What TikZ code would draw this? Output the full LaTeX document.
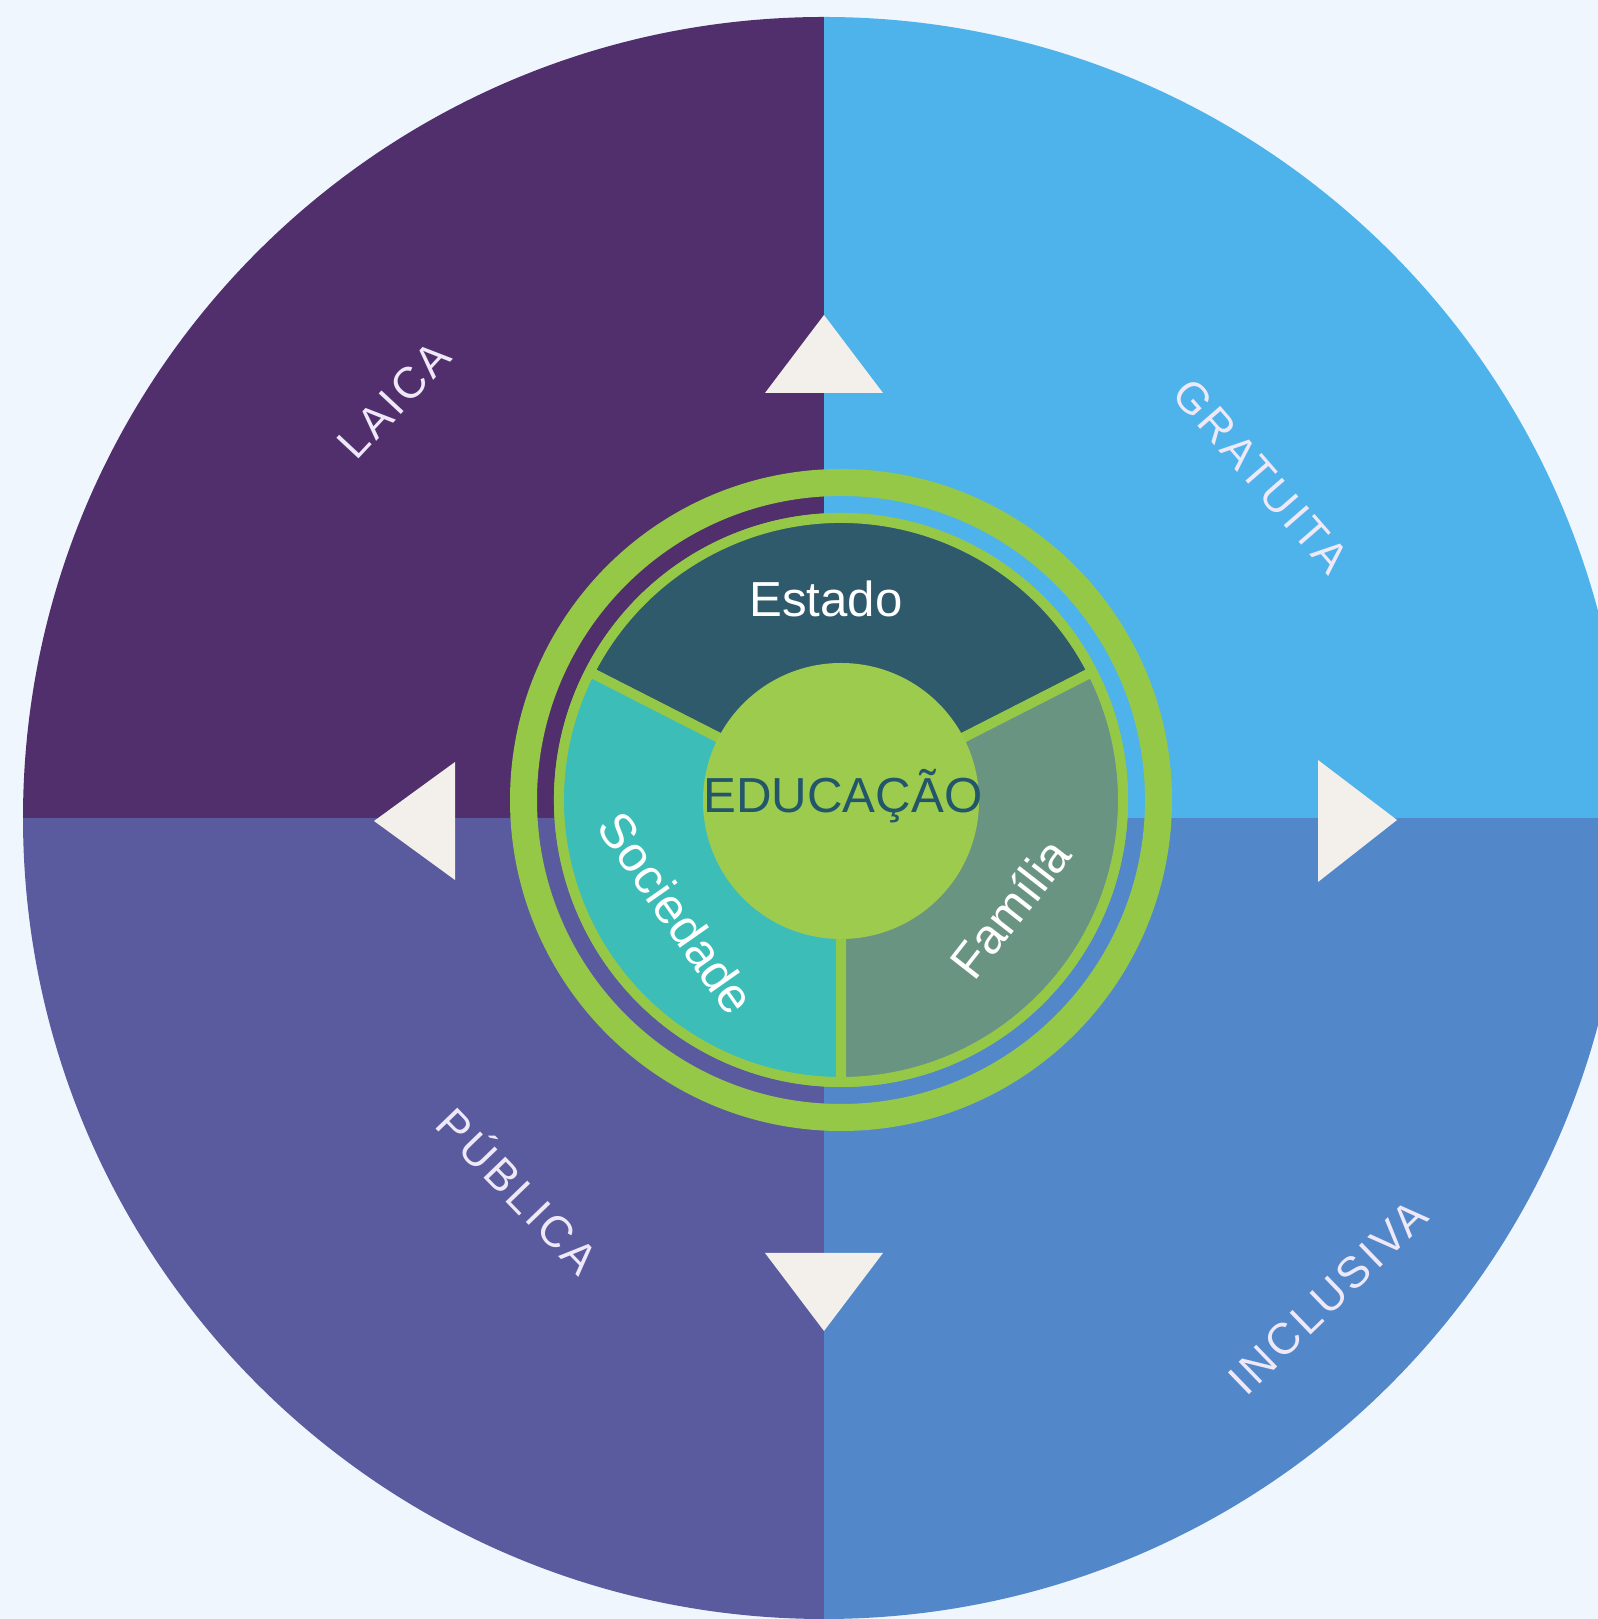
\documentclass[tikz,border=0pt]{standalone}
\usepackage{fontspec}
\setmainfont{Liberation Sans}
\definecolor{bgc}{HTML}{EFF6FD}
\definecolor{tlc}{HTML}{512E6C}
\definecolor{trc}{HTML}{4DB3EA}
\definecolor{blc}{HTML}{5A5B9F}
\definecolor{brc}{HTML}{5288CA}
\definecolor{ringc}{HTML}{96C847}
\definecolor{centc}{HTML}{9DCB4E}
\definecolor{estc}{HTML}{2F5A6C}
\definecolor{socc}{HTML}{3DBDB8}
\definecolor{famc}{HTML}{6A9482}
\definecolor{educ}{HTML}{22566A}
\definecolor{tric}{HTML}{F3EFEA}
\definecolor{labelc}{HTML}{EEE8F8}
\begin{document}
\begin{tikzpicture}[x=0.02cm,y=0.02cm,
  outerlabel/.style={text=labelc, inner sep=0pt,
    font=\fontsize{25}{25}\selectfont\addfontfeatures{LetterSpace=8}},
  innerlabel/.style={text=white, inner sep=0pt, font=\fontsize{28}{28}\selectfont},
  marker/.style={fill=tric},
  sector/.style={draw=ringc, line width=0.2cm, line join=round}]
\useasboundingbox (0,0) rectangle (1598,1619);
\fill[bgc] (0,0) rectangle (1598,1619);
% quadrants
\begin{scope}
  \clip (824,801) circle (801);
  \fill[tlc] (0,801) rectangle (824,1619);
  \fill[trc] (824,801) rectangle (1598,1619);
  \fill[blc] (0,0) rectangle (824,801);
  \fill[brc] (824,0) rectangle (1598,801);
\end{scope}
% triangles
\fill[marker] (765,1226) -- (883,1226) -- (824,1304) -- cycle;
\fill[marker] (765,366) -- (883,366) -- (824,288) -- cycle;
\fill[marker] (455,857) -- (455,739) -- (374,798) -- cycle;
\fill[marker] (1318,859) -- (1318,737) -- (1397,799) -- cycle;
% outer labels
\node[outerlabel, rotate=47] (laica) at (394,1219) {LAICA};
\node[outerlabel, rotate=-49] (gratuita) at (1261,1143) {GRATUITA};
\node[outerlabel, rotate=-46] (publica) at (520,430) {PÚBLICA};
\node[outerlabel, rotate=44] (inclusiva) at (1328,322) {INCLUSIVA};
% inner rings
\draw[ringc, line width=0.54cm] (841,819) circle (317.5);
\fill[ringc] (841,819) circle (287);
\filldraw[sector, fill=estc] (841,819) -- ++(27:282) arc (27:153:282) -- cycle;
\filldraw[sector, fill=socc] (841,819) -- ++(153:282) arc (153:270:282) -- cycle;
\filldraw[sector, fill=famc] (841,819) -- ++(270:282) arc (270:387:282) -- cycle;
\fill[centc] (841,818) circle (138);
% inner labels
\node[innerlabel, anchor=base] (estado) at (826,1002) {Estado};
\node[innerlabel, text=educ, anchor=base] (educacao) at (843,806) {EDUCAÇÃO};
\node[innerlabel, rotate=-55] (sociedade) at (677,706) {Sociedade};
\node[innerlabel, rotate=52] (familia) at (1010,711) {Família};
\end{tikzpicture}
\end{document}
